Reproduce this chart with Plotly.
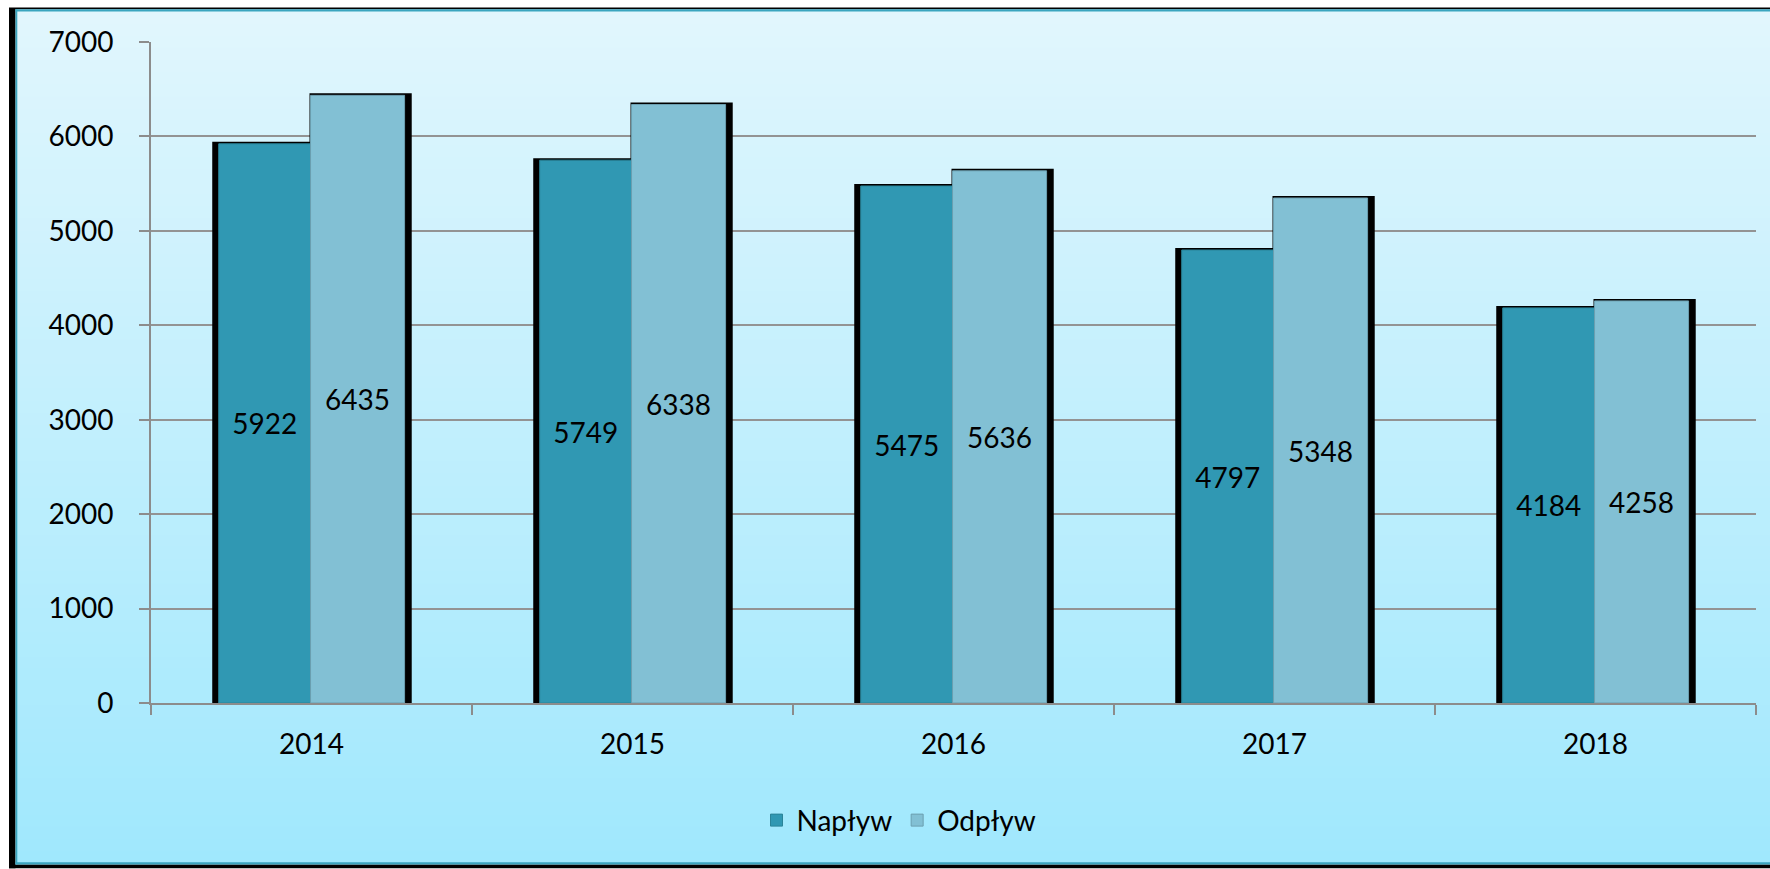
import plotly.graph_objects as go

years = ["2014", "2015", "2016", "2017", "2018"]
naplyw = [5922, 5749, 5475, 4797, 4184]
odplyw = [6435, 6338, 5636, 5348, 4258]
series_names = ["Napływ", "Odpływ"]

W, H = 1770, 869
PL, PR, PT, PB = 151, 1756, 42, 703.5  # plot area in pixels

def px(x):
    return (x - PL) / (PR - PL)

def py(y):
    return (PB - y) / (PB - PT)

FONT = "Lato"
FS = 28
fig = go.Figure()

# shadows (same data, black)
fig.add_trace(go.Bar(x=years, y=naplyw, offset=-0.303, width=0.31,
                     marker=dict(color="black", line=dict(color="black", width=4)),
                     showlegend=False, hoverinfo="skip"))
fig.add_trace(go.Bar(x=years, y=odplyw, offset=0.0, width=0.306,
                     marker=dict(color="black", line=dict(color="black", width=4)),
                     showlegend=False, hoverinfo="skip"))
# fills
fig.add_trace(go.Bar(x=years, y=naplyw, name=series_names[0], offset=-0.289, width=0.287,
                     marker=dict(color="#3098B3", line=dict(color="#2A8499", width=1)),
                     text=[str(v) for v in naplyw], textposition="inside",
                     insidetextanchor="middle", textangle=0,
                     textfont=dict(family=FONT, size=FS, color="black")))
fig.add_trace(go.Bar(x=years, y=odplyw, name=series_names[1], offset=-0.003, width=0.293,
                     marker=dict(color="#82C0D4", line=dict(color="#6C9FB0", width=1)),
                     text=[str(v) for v in odplyw], textposition="inside",
                     insidetextanchor="middle", textangle=0,
                     textfont=dict(family=FONT, size=FS, color="black")))

shapes = []
# gradient background bands
top, bot = 11, 864
n = 70
c0 = (225, 246, 253)
c1 = (160, 232, 253)
for i in range(n):
    y0 = top + (bot - top) * i / n
    y1 = top + (bot - top) * (i + 1) / n + 0.8
    t = (i + 0.5) / n
    c = tuple(round(c0[k] + (c1[k] - c0[k]) * t) for k in range(3))
    shapes.append(dict(type="rect", xref="paper", yref="paper", layer="below",
                       x0=px(16), x1=px(1790), y0=py(y0), y1=py(y1),
                       fillcolor="rgb(%d,%d,%d)" % c, line=dict(width=0)))
# frame: black shadow strips + teal borders
shapes += [
    dict(type="rect", xref="paper", yref="paper", layer="below",
         x0=px(9), x1=px(15.5), y0=py(8), y1=py(869), fillcolor="black", line=dict(width=0)),
    dict(type="rect", xref="paper", yref="paper", layer="below",
         x0=px(9), x1=px(1790), y0=py(865), y1=py(869), fillcolor="black", line=dict(width=0)),
    dict(type="rect", xref="paper", yref="paper", layer="below",
         x0=px(9), x1=px(1790), y0=py(7.5), y1=py(9.3), fillcolor="black", line=dict(width=0)),
    dict(type="rect", xref="paper", yref="paper", layer="below",
         x0=px(15.5), x1=px(1790), y0=py(9.3), y1=py(11.5), fillcolor="#3AA5BF", line=dict(width=0)),
    dict(type="rect", xref="paper", yref="paper", layer="below",
         x0=px(15.5), x1=px(17.3), y0=py(9.3), y1=py(865), fillcolor="#3AA5BF", line=dict(width=0)),
    dict(type="rect", xref="paper", yref="paper", layer="below",
         x0=px(15.5), x1=px(1790), y0=py(862.8), y1=py(865), fillcolor="#3AA5BF", line=dict(width=0)),
]

fig.update_layout(
    width=W, height=H,
    margin=dict(l=PL, r=W - PR, t=PT, b=H - PB, pad=0),
    paper_bgcolor="white", plot_bgcolor="rgba(0,0,0,0)",
    barmode="overlay",
    shapes=shapes,
    font=dict(family=FONT, size=FS, color="black"),
    showlegend=True,
    legend=dict(orientation="h", x=px(899), xanchor="center", y=py(821), yanchor="middle",
                font=dict(family=FONT, size=FS, color="black"), bgcolor="rgba(0,0,0,0)",
                traceorder="normal"),
    xaxis=dict(type="category", showgrid=False, showline=True, linecolor="#8C8C8C", linewidth=2,
               ticks="outside", ticklen=10, tickwidth=2, tickcolor="#8C8C8C", tickson="boundaries",
               ticklabelstandoff=15, tickfont=dict(family=FONT, size=FS, color="black"),
               zeroline=False, fixedrange=True),
    yaxis=dict(range=[0, 7000], dtick=1000, showgrid=True, gridcolor="#939393", gridwidth=2,
               showline=True, linecolor="#8C8C8C", linewidth=2,
               ticks="outside", ticklen=10, tickwidth=2, tickcolor="#8C8C8C",
               ticklabelstandoff=20, tickfont=dict(family=FONT, size=FS, color="black"),
               zeroline=False, fixedrange=True),
)

fig.write_html("out.html", config={"displayModeBar": False},
               post_script="document.body.style.margin='0';document.body.style.overflow='hidden';")
